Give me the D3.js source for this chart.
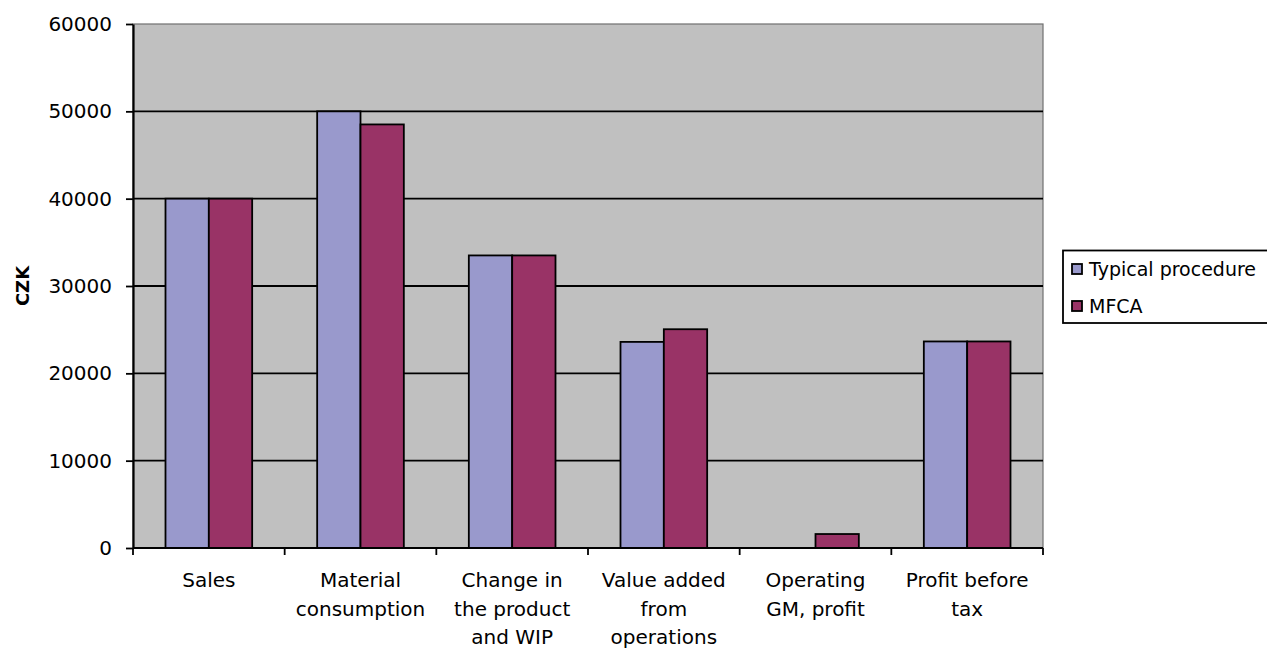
<!DOCTYPE html>
<html><head><meta charset="utf-8">
<script src="https://cdn.jsdelivr.net/npm/d3@7"></script>
<style>
html,body{margin:0;padding:0;background:#fff;overflow:hidden}
text{font-family:"DejaVu Sans",sans-serif;fill:#000}
</style></head>
<body>
<svg id="chart" width="1267" height="651"></svg>
<script>
const categories = [
  ["Sales"],
  ["Material", "consumption"],
  ["Change in", "the product", "and WIP"],
  ["Value added", "from", "operations"],
  ["Operating", "GM, profit"],
  ["Profit before", "tax"]
];
const seriesNames = ["Typical procedure", "MFCA"];
const typicalValues = [40000, 50000, 33500, 23600, 0, 23650];
const mfcaValues = [40000, 48500, 33500, 25050, 1600, 23650];
const yTicks = [0, 10000, 20000, 30000, 40000, 50000, 60000];
const colors = ["#9999CC", "#993366"];

const svg = d3.select("#chart");
const L = 133, R = 1043, T = 24, B = 548;
const catKeys = categories.map(c => c.join(" "));
const x = d3.scaleBand().domain(catKeys).range([L, R]).padding(0);
const y = d3.scaleLinear().domain([0, 60000]).range([B, T]);
const w = x.step() / 3.5;

// plot background
svg.append("rect").attr("x", L).attr("y", T).attr("width", R - L).attr("height", B - T)
  .attr("fill", "#C0C0C0").attr("stroke", "#707070").attr("stroke-width", 1.2);

// gridlines
svg.append("g").selectAll("line").data(yTicks.filter(v => v > 0 && v < 60000)).join("line")
  .attr("x1", L).attr("x2", R).attr("y1", d => y(d)).attr("y2", d => y(d))
  .attr("stroke", "#000").attr("stroke-width", 1.8);

// bars
const series = [typicalValues, mfcaValues];
series.forEach((vals, si) => {
  svg.append("g").selectAll("rect").data(vals).join("rect")
    .attr("x", (d, i) => x(catKeys[i]) + x.bandwidth() / 2 - w + si * w)
    .attr("y", d => y(d))
    .attr("width", w)
    .attr("height", d => B - y(d))
    .attr("fill", colors[si])
    .attr("stroke", d => d > 0 ? "#000" : "none")
    .attr("stroke-width", 1.8);
});

// y axis
const yAxis = d3.axisLeft(y).tickValues(yTicks).tickSize(7).tickSizeOuter(0).tickPadding(14)
  .tickFormat(d3.format("d"));
const ya = svg.append("g").attr("transform", `translate(${L},0)`).call(yAxis);
ya.select(".domain").attr("stroke", "#000").attr("stroke-width", 2.2);
ya.selectAll(".tick line").attr("stroke", "#000").attr("stroke-width", 1.8);
ya.selectAll(".tick text").style("font-family", "DejaVu Sans").style("font-size", "20px").attr("fill", "#000");

// x axis
const xa = svg.append("g").attr("transform", `translate(0,${B})`);
xa.append("line").attr("x1", L).attr("x2", R).attr("y1", 0).attr("y2", 0)
  .attr("stroke", "#000").attr("stroke-width", 2.2);
const bounds = catKeys.map(k => x(k)).concat([R]);
xa.selectAll("line.tk").data(bounds).join("line").attr("class", "tk")
  .attr("x1", d => d).attr("x2", d => d).attr("y1", 0).attr("y2", 7)
  .attr("stroke", "#000").attr("stroke-width", 1.8);
const lbl = xa.selectAll("text.cat").data(categories).join("text").attr("class", "cat")
  .attr("text-anchor", "middle").style("font-size", "20px")
  .attr("transform", (d, i) => `translate(${x(catKeys[i]) + x.bandwidth() / 2},0)`);
lbl.selectAll("tspan").data(d => d).join("tspan")
  .attr("x", 0).attr("y", (d, j) => 39 + j * 28.5).text(d => d);

// y title
svg.append("text").attr("transform", `translate(29,${(T + B) / 2}) rotate(-90)`)
  .attr("text-anchor", "middle").style("font-size", "18px").style("font-weight", "bold").text("CZK");

// legend
const lg = svg.append("g");
lg.append("rect").attr("x", 1063).attr("y", 250.5).attr("width", 260).attr("height", 72.5)
  .attr("fill", "#fff").attr("stroke", "#000").attr("stroke-width", 1.8);
seriesNames.forEach((n, i) => {
  const cy = 269 + i * 37;
  lg.append("rect").attr("x", 1072).attr("y", cy - 5).attr("width", 10).attr("height", 10)
    .attr("fill", colors[i]).attr("stroke", "#000").attr("stroke-width", 1.8);
  lg.append("text").attr("x", 1089).attr("y", cy).attr("dy", "0.36em")
    .style("font-size", "19px").text(n);
});
</script>
</body></html>
